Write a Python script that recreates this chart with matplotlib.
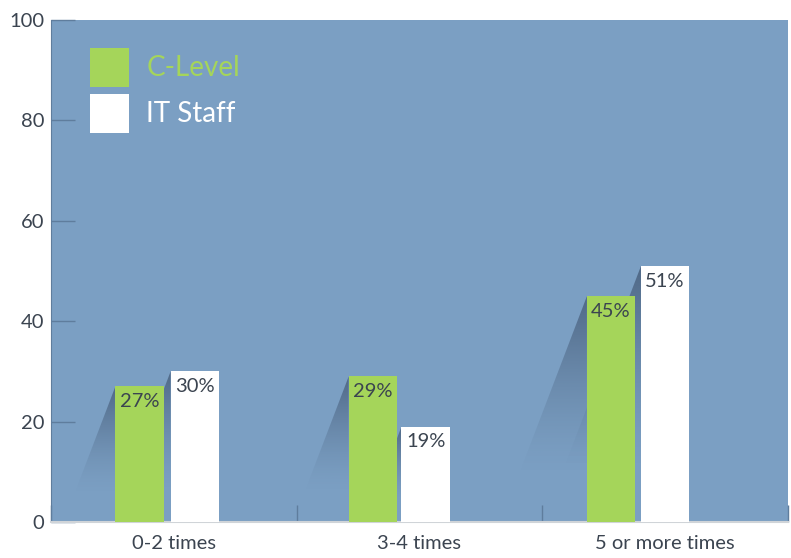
import matplotlib.pyplot as plt
import matplotlib.ticker as mticker
from matplotlib.patches import Polygon, Patch
import numpy as np

plt.rcParams['font.family'] = ['Lato', 'DejaVu Sans']

categories = ['0-2 times', '3-4 times', '5 or more times']
c_level = [27, 29, 45]
it_staff = [30, 19, 51]
series_names = ['C-Level', 'IT Staff']

# layout of the bars inside each category slot (slot width = 1)
green_off = [-0.14, -0.19, -0.22]
white_off = [0.085, 0.025, 0.0]
bar_w = 0.196

bg = '#7b9fc3'
green = '#a5d55a'
txt = '#3b4450'

fig = plt.figure(figsize=(7.91, 5.58), dpi=100)
ax = fig.add_axes([0.0645, 0.0645, 0.9315, 0.8995])
ax.set_facecolor(bg)

x = np.arange(len(categories))
gx = x + green_off
wx = x + white_off


def shadow(ax, xc, h):
    # soft slanted shadow falling to the left of a bar
    xl = xc - bar_w / 2
    dx = h * 0.0078
    poly = Polygon([(xl, h), (xl - dx, 0), (xl, 0)], closed=True,
                   facecolor='none', edgecolor='none')
    ax.add_patch(poly)
    n = 200
    t = np.linspace(0, 1, n)[:, None]
    alpha = 0.6 * np.clip((t - 0.2) / 0.8, 0, 1) ** 1.5
    img = np.zeros((n, 2, 4))
    img[..., 0] = 0.2
    img[..., 1] = 0.27
    img[..., 2] = 0.37
    img[..., 3] = alpha
    im = ax.imshow(img, extent=[xl - dx, xl, 0, h], origin='lower',
                   aspect='auto', zorder=1, interpolation='bilinear')
    im.set_clip_path(poly)


for xc, h in zip(list(gx) + list(wx), c_level + it_staff):
    shadow(ax, xc, h)

ax.bar(gx, c_level, width=bar_w, color=green, zorder=3, label=series_names[0])
ax.bar(wx, it_staff, width=bar_w, color='white', zorder=3, label=series_names[1])

for xc, v in zip(gx, c_level):
    ax.text(xc, v - 1.3, f'{v}%', ha='center', va='top', fontsize=14.5, color=txt, zorder=4)
for xc, v in zip(wx, it_staff):
    ax.text(xc, v - 1.3, f'{v}%', ha='center', va='top', fontsize=14.5, color=txt, zorder=4)

ax.set_xlim(-0.5, len(categories) - 0.5)
ax.set_ylim(0, 100)
ax.set_yticks(range(0, 101, 20))
ax.set_xticks(x)
ax.set_xticklabels(categories)
ax.xaxis.set_minor_locator(mticker.FixedLocator(np.arange(-0.5, len(categories), 1.0)))

ax.tick_params(axis='y', direction='in', length=17, width=1, color='#5f7d9d',
               labelsize=14.5, labelcolor=txt, pad=5)
ax.tick_params(axis='x', which='major', length=0, labelsize=14.5, labelcolor=txt, pad=9)
ax.tick_params(axis='x', which='minor', direction='in', length=12, width=1, color='#5f7d9d')

for s in ['top', 'right']:
    ax.spines[s].set_visible(False)
ax.spines['left'].set_color('#5f7d9d')
ax.spines['bottom'].set_color('#d0d4d8')
ax.spines['bottom'].set_linewidth(1.5)

handles = [Patch(facecolor=green), Patch(facecolor='white')]
leg = ax.legend(handles, series_names, loc='upper left', bbox_to_anchor=(0.019, 0.995),
                frameon=False, fontsize=20, handlelength=1.42, handleheight=1.8,
                handletextpad=0.6, labelspacing=0.25)
leg.get_texts()[0].set_color(green)
leg.get_texts()[1].set_color('white')

fig.savefig('out.png', dpi=100)
